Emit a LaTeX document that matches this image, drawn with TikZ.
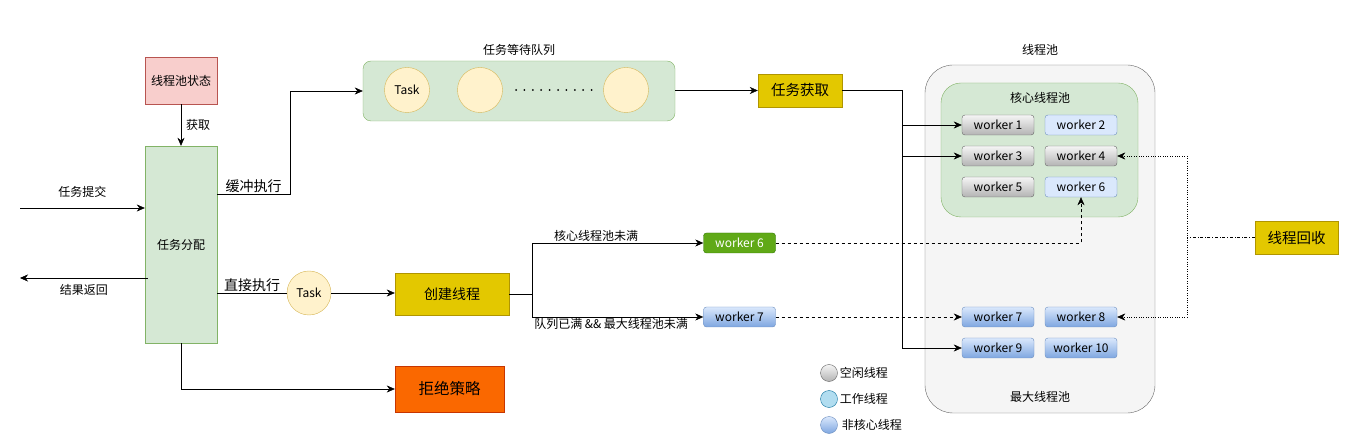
\documentclass[tikz,border=0pt]{standalone}
\usepackage{fontspec}
\setmainfont{Noto Sans CJK SC}
\usetikzlibrary{arrows.meta,positioning}
\definecolor{greenfill}{HTML}{D5E8D4}
\definecolor{greendraw}{HTML}{82B366}
\definecolor{pinkfill}{HTML}{F8CECC}
\definecolor{pinkdraw}{HTML}{B85450}
\definecolor{taskfill}{HTML}{FFF2CC}
\definecolor{taskdraw}{HTML}{D6B656}
\definecolor{yellowfill}{HTML}{E3C800}
\definecolor{yellowdraw}{HTML}{B09500}
\definecolor{orangefill}{HTML}{FA6800}
\definecolor{orangedraw}{HTML}{C73500}
\definecolor{poolfill}{HTML}{F5F5F5}
\definecolor{pooldraw}{HTML}{666666}
\definecolor{bluefill}{HTML}{DAE8FC}
\definecolor{bluedark}{HTML}{7EA6E0}
\definecolor{bluedraw}{HTML}{6C8EBF}
\definecolor{graydark}{HTML}{B3B3B3}
\definecolor{busyfill}{HTML}{B1DDF0}
\definecolor{busydraw}{HTML}{10739E}
\definecolor{coregreen}{HTML}{60A917}
\definecolor{coregreendraw}{HTML}{2D7600}

\begin{document}
\begin{tikzpicture}[x=1pt,y=-1pt,
 lbl/.style={font=\fontsize{12}{14}\selectfont,inner sep=1pt},
 biglbl/.style={lbl,font=\fontsize{14}{16}\selectfont},
 box/.style={draw,align=center,inner sep=0pt,font=\fontsize{12}{14}\selectfont},
 keybox/.style={box,fill=yellowfill,draw=yellowdraw,font=\fontsize{14.5}{16}\selectfont},
 task/.style={circle,draw=taskdraw,fill=taskfill,minimum size=45pt,inner sep=0pt,
              font=\fontsize{12}{14}\selectfont},
 worker/.style={draw,rounded corners=3pt,minimum width=72pt,minimum height=20pt,
                inner sep=0pt,font=\fontsize{12}{14}\selectfont},
 idle/.style={worker,draw=pooldraw,top color=poolfill,bottom color=graydark},
 busy/.style={worker,draw=bluedraw,fill=bluefill},
 extra/.style={worker,draw=bluedraw,top color=bluefill,bottom color=bluedark},
 arrow/.style={-{Stealth[length=8pt,width=7pt,inset=2.5pt]}}
]
\useasboundingbox (0,0) rectangle (1355,446);

% pools
\node[draw=pooldraw,fill=poolfill,rounded corners=28pt,minimum width=230pt,minimum height=348pt] (pool) at (1040,239) {};
\node[lbl] at (1040,50) {线程池};
\node[lbl] at (1040,397) {最大线程池};
\node[draw=greendraw,fill=greenfill,rounded corners=20pt,minimum width=197pt,minimum height=134pt] (core) at (1039.5,150) {};
\node[lbl] at (1040,98) {核心线程池};

% workers
\node[idle]  (w1)  at (998,125)  {worker 1};
\node[busy]  (w2)  at (1081,125) {worker 2};
\node[idle]  (w3)  at (998,156)  {worker 3};
\node[idle]  (w4)  at (1081,156) {worker 4};
\node[idle]  (w5)  at (998,187)  {worker 5};
\node[busy]  (w6)  at (1081,187) {worker 6};
\node[extra] (w7)  at (998,317)  {worker 7};
\node[extra] (w8)  at (1081,317) {worker 8};
\node[extra] (w9)  at (998,348)  {worker 9};
\node[extra] (w10) at (1081,348) {worker 10};

% left side
\node[box,fill=pinkfill,draw=pinkdraw,minimum width=72pt,minimum height=47pt] (state) at (181,80.5) {线程池状态};
\node[box,fill=greenfill,draw=greendraw,minimum width=72pt,minimum height=197pt] (dispatch) at (181,244.5) {任务分配};
\draw[arrow] (state) -- node[lbl,right=4pt] {获取} (dispatch);
\coordinate (in) at (20,208);
\coordinate (out) at (20,278);
\draw[arrow] (in) -- node[lbl,above=9pt] {任务提交} (in -| dispatch.west);
\draw[arrow] ([xshift=3pt]out -| dispatch.west) -- node[lbl,below=5pt] {结果返回} (out);

% waiting queue
\node[draw=greendraw,fill=greenfill,rounded corners=8pt,minimum width=312pt,minimum height=60pt] (queue) at (519,91) {};
\node[lbl] at (519,50) {任务等待队列};
\node[task] (q1) at (407,90) {Task};
\node[task] (q2) at (480,90) {};
\node[task] (q3) at (626,90) {};
\foreach \i in {0,...,9}
  \fill (516+\i*8.4,90) circle (1pt);
\coordinate (buf) at (290,194);
\draw[arrow] (buf -| dispatch.east) -- node[biglbl,above=0pt] {缓冲执行} (buf) |- (queue.west);

\node[keybox,minimum width=84pt,minimum height=33pt] (fetch) at (800,90.5) {任务获取};
\draw[arrow] (queue.east |- fetch) -- (fetch.west);
\coordinate (bus) at (902,90.5);
\draw (fetch.east) -- (bus) -- (bus |- w9.west);
\draw[arrow] (bus |- w1.west) -- (w1.west);
\draw[arrow] (bus |- w3.west) -- (w3.west);
\draw[arrow] (bus |- w9.west) -- (w9.west);

% direct execution
\node[task,minimum size=44pt] (t) at (309,293) {Task};
\draw (t.west -| dispatch.east) -- node[biglbl,above=0pt] {直接执行} (t.west);
\node[keybox,font=\fontsize{14}{16}\selectfont,minimum width=114pt,minimum height=42pt] (create) at (452,294) {创建线程};
\draw[arrow] (t.east) -- (t.east -| create.west);
\node[worker,fill=coregreen,draw=coregreendraw,text=white] (n6) at (739.5,243) {worker 6};
\node[extra] (n7) at (739.5,317) {worker 7};
\coordinate (split) at (532,294);
\draw (create.east |- split) -- (split);
\draw[arrow] (split) |- node[lbl,pos=0.687,above=0pt] {核心线程池未满} (n6.west);
\draw[arrow] (split) |- node[lbl,pos=0.731,below=0pt] {队列已满 \&\& 最大线程池未满} (n7.west);
\draw[dashed] (n6.east) -| ([yshift=-10pt]w6.south);
\draw[dashed,arrow] ([yshift=-10pt]w6.south) -- (w6.south);
\draw[dashed,arrow] (n7.east) -- (w7.west);

% reject
\node[box,fill=orangefill,draw=orangedraw,font=\fontsize{15.5}{17}\selectfont,minimum width=109pt,minimum height=46pt] (reject) at (449.5,389) {拒绝策略};
\draw[arrow] (dispatch.south) |- (reject.west);

% recycle
\node[keybox,minimum width=83pt,minimum height=33pt] (recycle) at (1296.5,237.5) {线程回收};
\coordinate (rbus) at (1187,237.5);
\draw[dash dot] (recycle.west) -- (rbus);
\draw[dotted] (rbus |- w4.east) -- (rbus |- w8.east);
\draw[dotted,arrow] (rbus |- w4.east) -- (w4.east);
\draw[dotted,arrow] (rbus |- w8.east) -- (w8.east);

% legend
\node[circle,minimum size=17pt,inner sep=0pt,draw=pooldraw,top color=poolfill,bottom color=graydark] (lg1) at (829,373) {};
\node[lbl,right=1pt of lg1] {空闲线程};
\node[circle,minimum size=17pt,inner sep=0pt,draw=busydraw,fill=busyfill] (lg2) at (829,399) {};
\node[lbl,right=1pt of lg2] {工作线程};
\node[circle,minimum size=17pt,inner sep=0pt,draw=bluedraw,top color=bluefill,bottom color=bluedark] (lg3) at (829,425) {};
\node[lbl,right=3pt of lg3] {非核心线程};
\end{tikzpicture}
\end{document}
